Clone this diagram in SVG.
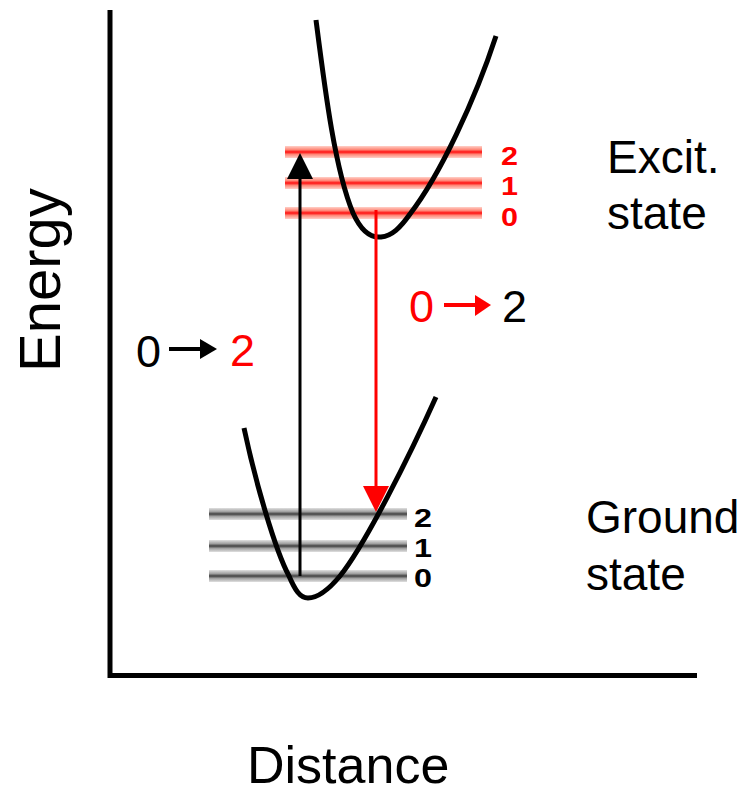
<svg xmlns="http://www.w3.org/2000/svg" width="747" height="793" viewBox="0 0 747 793">
<defs>
<linearGradient id="gRed" x1="0" y1="0" x2="0" y2="1">
<stop offset="0" stop-color="#ffd0c8"/>
<stop offset="0.3" stop-color="#ff8878"/>
<stop offset="0.5" stop-color="#ff1010"/>
<stop offset="0.7" stop-color="#ff8878"/>
<stop offset="1" stop-color="#ffd0c8"/>
</linearGradient>
<linearGradient id="gGray" x1="0" y1="0" x2="0" y2="1">
<stop offset="0" stop-color="#e0e0e0"/>
<stop offset="0.3" stop-color="#a0a0a0"/>
<stop offset="0.5" stop-color="#404040"/>
<stop offset="0.7" stop-color="#a0a0a0"/>
<stop offset="1" stop-color="#e0e0e0"/>
</linearGradient>
</defs>
<style>
text{font-family:"Liberation Sans",Arial,sans-serif;}
.lbl{font-size:46px;fill:#000;}
.num{font-size:45px;}
.lvl{font-size:26px;font-weight:bold;}
.red{fill:#ff0000;}
.blk{fill:#000;}
.curve{fill:none;stroke:#000;stroke-width:5;stroke-linecap:butt;}
.axis{stroke:#000;stroke-width:5;fill:none;}
</style>
<rect width="747" height="793" fill="#fff"/>
<g id="axes">
<line class="axis" x1="110" y1="10" x2="110" y2="678"/>
<line class="axis" x1="108" y1="675.5" x2="697" y2="675.5"/>
</g>
<g id="excited-levels">
<rect x="285" y="146" width="197" height="12" fill="url(#gRed)"/>
<rect x="285" y="177" width="197" height="12" fill="url(#gRed)"/>
<rect x="285" y="207" width="197" height="12" fill="url(#gRed)"/>
<text class="lvl red" x="501" y="165" textLength="17" lengthAdjust="spacingAndGlyphs">2</text>
<text class="lvl red" x="501" y="195" textLength="17" lengthAdjust="spacingAndGlyphs">1</text>
<text class="lvl red" x="501" y="226" textLength="17" lengthAdjust="spacingAndGlyphs">0</text>
</g>
<g id="ground-levels">
<rect x="209" y="508" width="198" height="12" fill="url(#gGray)"/>
<rect x="209" y="540" width="198" height="12" fill="url(#gGray)"/>
<rect x="209" y="570" width="198" height="12" fill="url(#gGray)"/>
<text class="lvl blk" x="414" y="527" textLength="18" lengthAdjust="spacingAndGlyphs">2</text>
<text class="lvl blk" x="414" y="557" textLength="18" lengthAdjust="spacingAndGlyphs">1</text>
<text class="lvl blk" x="414" y="587" textLength="18" lengthAdjust="spacingAndGlyphs">0</text>
</g>
<g id="excited-curve">
<path class="curve" d="M316,20 C325,90 335,170 353,213 C362,233 372,238 381,237 C392,236 400,228 410,214 C440,175 475,100 496,36"/>
</g>
<g id="ground-curve">
<path class="curve" d="M244,428 C255,480 275,550 289,576 C295,590 300,598 308,598 C318,598 330,588 340,576 C365,545 410,455 436,397"/>
</g>
<g id="connectors">
<line x1="300" y1="576" x2="300" y2="176" stroke="#000" stroke-width="3"/>
<polygon points="300,153 287,179 313,179" fill="#000"/>
<line x1="376" y1="210" x2="376" y2="488" stroke="#ff0000" stroke-width="3"/>
<polygon points="363,486 389,486 376,512" fill="#ff0000"/>
</g>
<g id="absorption-label">
<text class="num blk" x="136" y="367">0</text>
<line x1="169" y1="349" x2="202" y2="349" stroke="#000" stroke-width="4"/>
<polygon points="200,339 217,349 200,359" fill="#000"/>
<text class="num red" x="230" y="366">2</text>
</g>
<g id="emission-label">
<text class="num red" x="409" y="322">0</text>
<line x1="444" y1="305" x2="477" y2="305" stroke="#ff0000" stroke-width="4"/>
<polygon points="475,295 491,305 475,316" fill="#ff0000"/>
<text class="num blk" x="502" y="322">2</text>
</g>
<g id="state-labels">
<text class="lbl" x="607" y="173">Excit.</text>
<text class="lbl" x="607" y="229">state</text>
<text class="lbl" x="586" y="533">Ground</text>
<text class="lbl" x="586" y="590">state</text>
</g>
<g id="axis-labels">
<text class="lbl" x="60" y="372" style="font-size:58px" transform="rotate(-90 60 372)">Energy</text>
<text class="lbl" x="247" y="783" style="font-size:52px">Distance</text>
</g>
</svg>
